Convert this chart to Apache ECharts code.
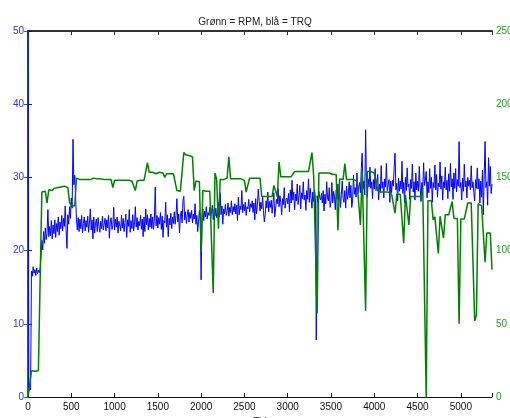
<!DOCTYPE html>
<html>
<head>
<meta charset="utf-8">
<script src="https://cdn.jsdelivr.net/npm/echarts@6/dist/echarts.min.js"></script>
<style>
html,body{margin:0;padding:0;background:#fff;}
#c{width:510px;height:418px;}
</style>
</head>
<body>
<div id="c"></div>
<script>
// sample spacing on the time axis (Tid)
var TRQ_STEP = 10;
var RPM_STEP = 20;
var X_MAX = 5360;
var xTicks = [0, 500, 1000, 1500, 2000, 2500, 3000, 3500, 4000, 4500, 5000];
var leftTicks = [0, 10, 20, 30, 40, 50];
var rightTicks = [0, 50, 100, 150, 200, 250];

// blå = TRQ (left axis), one value every 10 time units
var trq = [
  50, 0.8, 1.3, 1.0, 17.2, 16.5, 17.8, 16.9, 17.4, 16.6,
  17.6, 16.8, 17.3, 17.0, 17.5, 19.2, 21.4, 20.1, 22.6, 21.0,
  23.1, 21.5, 22.4, 25.6, 21.9, 23.3, 22.0, 24.1, 21.6, 23.5,
  22.3, 24.2, 21.8, 23.7, 22.6, 24.6, 22.1, 23.9, 23.0, 24.8,
  22.7, 24.4, 23.3, 26.1, 22.9, 20.3, 24.9, 23.6, 26.0, 24.4,
  27.2, 25.8, 35.2, 29.0, 30.3, 27.4, 24.2, 22.8, 24.5, 22.6,
  24.3, 23.0, 24.8, 22.4, 23.7, 24.6, 22.7, 24.1, 23.2, 24.7,
  22.5, 23.9, 25.7, 22.8, 24.2, 21.6, 24.6, 22.4, 23.8, 24.3,
  22.6, 24.5, 23.3, 22.5, 24.0, 23.0, 24.7, 22.8, 23.6, 24.4,
  22.7, 24.2, 23.1, 24.8, 21.7, 23.9, 24.5, 22.9, 23.4, 25.9,
  22.8, 24.3, 23.2, 24.6, 22.4, 24.0, 23.5, 22.7, 24.8, 23.1,
  24.4, 22.6, 23.8, 25.0, 21.8, 24.2, 23.3, 25.6, 22.5, 24.1,
  23.0, 24.9, 22.7, 23.6, 26.0, 23.2, 24.5, 22.8, 24.0, 23.4,
  24.8, 22.9, 24.3, 21.9, 24.6, 22.6, 25.7, 23.5, 24.9, 22.8,
  24.4, 23.2, 25.0, 23.0, 24.6, 22.9, 24.3, 28.7, 23.4, 24.8,
  23.1, 24.5, 23.6, 25.2, 22.9, 24.7, 21.8, 24.1, 23.8, 26.6,
  23.2, 24.9, 21.9, 24.4, 23.5, 25.1, 23.0, 24.6, 23.7, 25.3,
  23.6, 24.8, 27.1, 23.9, 25.0, 22.4, 24.7, 25.4, 23.8, 26.8,
  27.4, 24.2, 25.3, 23.7, 24.9, 25.6, 23.9, 25.2, 24.4, 25.5,
  23.8, 25.0, 24.3, 26.4, 23.6, 24.8, 22.6, 24.0, 25.5, 24.2,
  16.0, 24.5, 25.7, 24.1, 25.4, 24.6, 26.0, 24.3, 25.2, 24.8,
  25.9, 24.4, 25.3, 26.2, 24.2, 25.6, 24.7, 25.8, 24.5, 25.1,
  26.6, 24.6, 27.9, 24.9, 26.1, 23.6, 25.7, 25.0, 26.3, 24.8,
  25.4, 26.5, 24.7, 25.9, 25.2, 26.8, 24.9, 26.0, 25.3, 26.4,
  25.0, 26.2, 24.1, 27.3, 24.9, 26.1, 25.6, 28.2, 25.2, 26.3,
  25.4, 26.6, 24.8, 26.0, 25.7, 27.0, 25.3, 26.4, 25.9, 26.8,
  25.2, 26.5, 24.2, 27.1, 25.0, 26.2, 28.4, 26.9, 25.4, 26.6,
  25.7, 27.4, 25.5, 23.9, 24.9, 26.8, 25.8, 28.0, 25.3, 26.7,
  25.9, 26.9, 25.1, 26.5, 27.9, 24.6, 25.7, 27.0, 26.4, 28.5,
  26.0, 27.5, 26.6, 24.9, 27.1, 26.3, 28.6, 25.8, 26.9, 27.2,
  26.4, 27.8, 25.3, 28.3, 26.5, 29.6, 26.9, 28.0, 25.6, 27.7,
  26.8, 29.1, 26.3, 27.5, 28.9, 25.7, 27.9, 27.1, 29.4, 26.9,
  27.6, 25.5, 28.2, 27.0, 29.8, 26.6, 28.5, 27.2, 25.8, 28.0,
  26.7, 28.3, 27.1, 7.8, 27.5, 26.6, 28.1, 27.3, 26.9, 27.8,
  26.5, 28.2, 25.4, 27.7, 26.4, 29.4, 27.2, 26.8, 28.6, 25.9,
  26.7, 29.3, 26.5, 28.1, 27.4, 25.6, 28.3, 27.0, 29.1, 26.8,
  28.0, 25.9, 27.7, 29.5, 27.1, 26.6, 28.2, 25.8, 28.8, 27.0,
  27.6, 29.4, 27.2, 28.9, 25.9, 26.9, 30.3, 27.7, 28.6, 27.3,
  30.6, 27.8, 28.7, 29.3, 27.9, 31.2, 33.3, 28.4, 29.5, 27.6,
  36.5, 29.2, 27.3, 29.8, 28.7, 31.4, 28.5, 29.4, 27.1, 29.7,
  28.4, 31.2, 28.2, 29.3, 30.4, 26.9, 29.1, 27.9, 31.6, 28.5,
  29.4, 27.2, 29.8, 28.7, 31.9, 28.2, 29.0, 29.7, 26.6, 29.5,
  27.9, 29.6, 28.8, 31.4, 33.3, 28.3, 29.2, 26.8, 29.9, 28.1,
  29.5, 28.4, 32.2, 27.8, 29.3, 26.5, 30.0, 28.2, 31.3, 28.7,
  29.1, 27.0, 29.7, 28.5, 31.8, 28.0, 29.4, 26.9, 30.6, 28.3,
  29.5, 28.1, 31.5, 28.6, 26.7, 29.3, 28.4, 32.0, 28.9, 29.6,
  30.8, 27.2, 29.4, 27.9, 31.2, 28.5, 30.0, 26.6, 29.3, 28.6,
  31.7, 28.3, 30.4, 27.3, 29.2, 28.7, 32.1, 28.4, 30.2, 26.9,
  29.4, 28.6, 31.4, 28.3, 29.6, 27.1, 30.5, 28.1, 31.9, 28.7,
  29.8, 27.0, 30.6, 28.5, 31.2, 28.0, 29.7, 28.8, 34.9, 28.6,
  29.3, 26.9, 29.9, 28.1, 31.8, 28.7, 29.5, 27.2, 30.0, 28.8,
  29.6, 28.3, 31.6, 28.6, 29.4, 27.9, 26.8, 29.7, 28.5, 31.3,
  28.4, 29.8, 26.5, 29.5, 27.3, 31.0, 24.9, 30.3, 34.9, 28.6,
  29.4, 26.2, 32.7, 28.8, 31.5, 27.8, 29.1
];

// Grønn = RPM (right axis), one value every 20 time units
var rpm = [
  0, 0, 18, 18, 17.6, 18, 18, 17.5, 140, 141,
  140.5, 132.5, 141.5, 142, 141, 142.5, 142, 143, 142.5, 143.5,
  143, 144, 143.5, 143, 133, 131, 131.5, 130.5, 149.5, 149,
  148.5, 149, 148.5, 149.5, 148.5, 149, 148.5, 149, 149.5, 148.5,
  149, 148.5, 149, 149.5, 148.5, 149, 148.5, 149, 148.5, 143,
  148, 148.5, 148, 147.5, 148, 147.5, 148, 147.5, 148, 147,
  147.5, 147, 141, 147.5, 148, 148, 147.5, 148, 147, 160,
  153.5, 153, 153.5, 153, 152.5, 153, 153.5, 152.5, 153, 150,
  152.5, 153, 152.5, 152, 152.5, 152, 141, 140, 140.5, 140,
  167, 165.5, 165, 165, 164.5, 164, 141, 147.5, 148, 147,
  99, 141, 141.5, 140.5, 141, 140.5, 141, 71, 153, 148.5,
  115, 148.5, 149, 148.5, 149, 149.5, 164, 149, 148.5, 149,
  148.5, 149, 148.5, 149, 148.5, 148, 140, 140.5, 149.5, 149,
  149.5, 149, 149.5, 149, 149.5, 137, 136.5, 137, 136.5, 137,
  136.5, 137, 144.5, 145, 137, 160.5, 150.5, 150, 150.5, 150,
  150.5, 150, 150.5, 150, 154, 154.5, 154, 153.5, 154, 154.5,
  154, 153.5, 154, 154.5, 167, 151, 150, 57, 153, 152.5,
  153, 152.5, 153, 152.5, 153, 152.5, 152, 152.5, 152, 114,
  149, 149, 148.5, 159.5, 148.5, 148, 148.5, 148, 148.5, 148,
  147.5, 148, 117.5, 154, 154.5, 59, 154, 154.5, 154, 153.5,
  153, 148, 141, 140.5, 140, 140.5, 140, 139.5, 140, 139.5,
  138.5, 138, 125.5, 138.5, 138, 138.5, 137.5, 105, 138, 137.5,
  117.5, 137, 136.5, 137, 136.5, 137, 136.5, 137, 142.5, 142,
  0, 134, 134.5, 134, 121, 123, 122.5, 98, 123.5, 124,
  108.5, 124.5, 125, 124.5, 125.5, 133.5, 122, 121.5, 122, 50,
  121.5, 122, 121.5, 122, 132.5, 132, 132.5, 132, 52, 56,
  132, 131, 130.5, 131, 92, 112, 111.5, 112, 87
];

var FONT = 'Liberation Sans, Arial, Helvetica, sans-serif';
var trqData = trq.map(function (v, i) { return [i * TRQ_STEP, v]; });
var rpmData = rpm.map(function (v, i) { return [i * RPM_STEP, v]; });

var chart = echarts.init(document.getElementById('c'), null, {renderer: 'canvas'});
chart.setOption({
  animation: false,
  backgroundColor: '#fff',
  title: {
    text: 'Grønn = RPM, blå = TRQ',
    left: 'center', top: 12,
    textStyle: {fontFamily: FONT, fontSize: 10, fontWeight: 'normal', color: '#222'}
  },
  grid: {left: 28, right: 18, top: 31, bottom: 21, containLabel: false, outerBoundsMode: 'none'},
  xAxis: [{
    type: 'value', min: 0, max: X_MAX, interval: 500,
    name: 'Tid', nameLocation: 'middle', nameGap: 15,
    nameTextStyle: {fontFamily: FONT, fontSize: 10, color: '#111'},
    axisLine: {show: true, lineStyle: {color: '#111', width: 1}},
    axisTick: {show: true, inside: true, length: 4, lineStyle: {color: '#111'}},
    axisLabel: {fontFamily: FONT, fontSize: 10, color: '#111', margin: 5,
      formatter: function (v) { return xTicks.indexOf(v) >= 0 ? String(v) : ''; }},
    splitLine: {show: false}
  }, {
    type: 'value', min: 0, max: X_MAX, interval: 500, position: 'top',
    axisLine: {show: true, onZero: false, lineStyle: {color: '#333', width: 2}},
    axisTick: {show: true, inside: true, length: 4, lineStyle: {color: '#333'}},
    axisLabel: {show: false},
    splitLine: {show: false}
  }],
  yAxis: [{
    type: 'value', min: leftTicks[0], max: leftTicks[leftTicks.length - 1], interval: 10,
    position: 'left',
    axisLine: {show: true, lineStyle: {color: '#0000ff', width: 1.5}},
    axisTick: {show: true, inside: true, length: 4, lineStyle: {color: '#0000ff'}},
    axisLabel: {fontFamily: FONT, fontSize: 10, color: '#3030ff', margin: 4},
    splitLine: {show: false}
  }, {
    type: 'value', min: rightTicks[0], max: rightTicks[rightTicks.length - 1], interval: 50,
    position: 'right',
    axisLine: {show: true, lineStyle: {color: '#1d5f6e', width: 1.5}},
    axisTick: {show: true, inside: true, length: 4, lineStyle: {color: '#1a7a3a'}},
    axisLabel: {fontFamily: FONT, fontSize: 10, color: '#22a022', margin: 4},
    splitLine: {show: false}
  }],
  series: [{
    name: 'TRQ', type: 'line', xAxisIndex: 0, yAxisIndex: 0,
    data: trqData, showSymbol: false, symbol: 'none', sampling: null,
    lineStyle: {color: '#0000ff', width: 1}, z: 2
  }, {
    name: 'RPM', type: 'line', xAxisIndex: 0, yAxisIndex: 1,
    data: rpmData, showSymbol: false, symbol: 'none', sampling: null,
    lineStyle: {color: '#008000', width: 1.5}, z: 3
  }]
});
</script>
</body>
</html>
